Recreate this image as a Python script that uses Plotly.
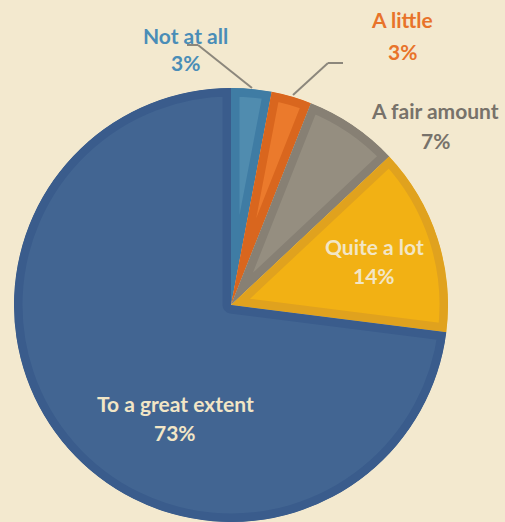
import plotly.graph_objects as go

W, H = 505, 522

# ---- data ----
categories = ["Not at all", "A little", "A fair amount", "Quite a lot", "To a great extent"]
values = [3, 3, 7, 14, 73]

# ---- styles ----
fill_colors = ["#508CAF", "#EB7A2C", "#958E80", "#F2B114", "#426592"]
border_colors = ["#3F7CA4", "#D9661E", "#878074", "#E0A21E", "#3A5C8C"]
label_colors = ["#4A8DB7", "#E8732A", "#77726A", "#F2E6C6", "#F2E6C6"]
# label positions in pixels: (x centre, name line y, percent line y)
label_pos = [(185, 35, 62), (402, 20, 51), (435, 110, 140), (374, 246, 275), (175, 403, 432)]
BG = "#F3E9CF"
FONT = "Lato"

cx, cy, r = 231, 305, 217
stroke = 17  # drawn centred on the edge, clipped to the slice -> inset border

fig = go.Figure(go.Pie(
    labels=categories,
    values=values,
    sort=False,
    direction="clockwise",
    rotation=0,
    textinfo="none",
    hoverinfo="label+percent",
    marker=dict(colors=fill_colors, line=dict(color=border_colors, width=stroke)),
    domain=dict(x=[(cx - r) / W, (cx + r) / W],
                y=[(H - cy - r) / H, (H - cy + r) / H]),
    showlegend=False,
))

total = sum(values)
annotations = []
for cat, val, col, (px, py1, py2) in zip(categories, values, label_colors, label_pos):
    pct = f"{round(100 * val / total)}%"
    for txt, py in ((cat, py1), (pct, py2)):
        annotations.append(dict(
            text=f"<b>{txt}</b>", x=px / W, y=1 - py / H, xref="paper", yref="paper",
            xanchor="center", yanchor="middle", showarrow=False,
            font=dict(family=FONT, size=21, color=col)))

# leader lines (pixel coordinates -> paper)
leaders = [
    [(187, 45), (198, 45), (252, 88)],
    [(343, 63), (328, 63), (293, 95)],
]
shapes = []
for pts in leaders:
    for (x0, y0), (x1, y1) in zip(pts[:-1], pts[1:]):
        shapes.append(dict(type="line", xref="paper", yref="paper",
                           x0=x0 / W, y0=1 - y0 / H, x1=x1 / W, y1=1 - y1 / H,
                           line=dict(color="#8C877C", width=2)))

fig.update_layout(
    width=W, height=H,
    margin=dict(l=0, r=0, t=0, b=0),
    paper_bgcolor=BG, plot_bgcolor=BG,
    annotations=annotations, shapes=shapes,
)

# clip every slice's outline to the slice itself so the border sits inside it
post = """
document.body.style.margin = '0';
document.body.style.background = '%s';
var gd = document.getElementById('{plot_id}');
var svg = gd.querySelector('svg.main-svg');
var defs = svg.querySelector('defs');
var NS = 'http://www.w3.org/2000/svg';
gd.querySelectorAll('g.slice path.surface').forEach(function (p, i) {
  var cp = document.createElementNS(NS, 'clipPath');
  cp.setAttribute('id', 'sliceclip' + i);
  var pp = document.createElementNS(NS, 'path');
  pp.setAttribute('d', p.getAttribute('d'));
  cp.appendChild(pp);
  defs.appendChild(cp);
  p.setAttribute('clip-path', 'url(#sliceclip' + i + ')');
});
""" % BG

fig.write_html("out.html", post_script=post, config={"displayModeBar": False})
